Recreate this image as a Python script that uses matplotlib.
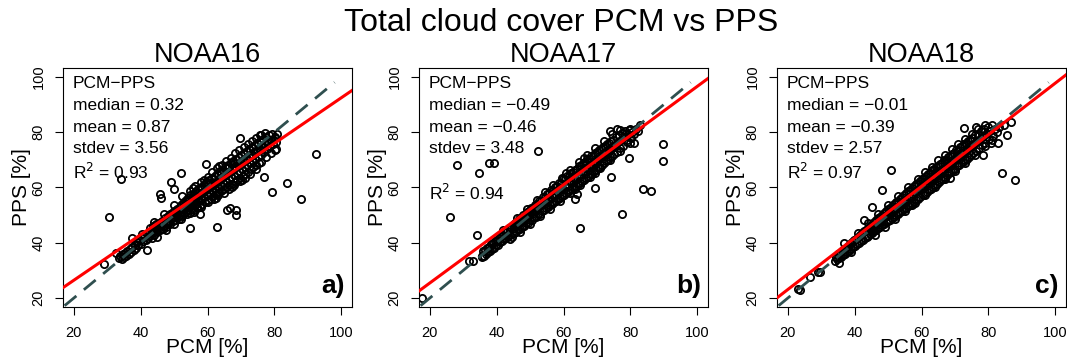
import matplotlib
matplotlib.use("Agg")
import matplotlib.pyplot as plt

plt.rcParams['font.family'] = ['Liberation Sans', 'DejaVu Sans']

# NOAA16: PCM (x) vs PPS (y)
n16_pcm = [33.4, 33.9, 34.3, 34.6, 35.0, 35.3, 35.7, 36.0, 36.4, 36.8, 37.1, 37.5, 37.9, 38.2, 38.6,
           39.0, 39.3, 39.7, 40.1, 40.4, 40.8, 41.1, 41.5, 41.8, 42.2,
           42.4, 42.6, 42.9, 43.1, 43.3, 43.6, 43.8, 44.0, 44.3, 44.5, 44.7, 45.0, 45.2, 45.4, 45.7,
           45.9, 46.1, 46.4, 46.6, 46.8, 47.1, 47.3, 47.5, 47.8, 48.0, 48.2, 48.5, 48.7, 48.9, 49.2,
           49.4, 49.6, 49.9, 50.1, 50.3, 50.6, 50.8, 51.0, 51.3, 51.5,
           51.7, 51.9, 52.1, 52.3, 52.5, 52.7, 52.9, 53.1, 53.3, 53.5,
           53.7, 53.9, 54.1, 54.3, 54.5, 54.7, 54.9, 55.1, 55.3, 55.5,
           55.7, 55.9, 56.1, 56.3, 56.5, 56.7, 56.9, 57.1, 57.3, 57.5,
           57.7, 57.9, 58.1, 58.3, 58.5, 58.7, 58.9, 59.1, 59.3, 59.5,
           59.7, 59.9, 60.1, 60.3, 60.5, 60.7, 60.9, 61.1, 61.3, 61.5,
           61.7, 61.9, 62.1, 62.3, 62.5, 62.7, 62.9, 63.1, 63.3, 63.5,
           63.7, 63.9, 64.1, 64.3, 64.5, 64.7, 64.9, 65.1, 65.3, 65.5,
           65.7, 65.9, 66.1, 66.3, 66.5, 66.7, 66.9, 67.1, 67.3, 67.5,
           67.7, 67.9, 68.1, 68.3, 68.5, 68.7, 68.9, 69.1, 69.3, 69.5,
           69.7, 69.9,
           70.1, 70.3, 70.5, 70.7, 70.9, 71.1, 71.3, 71.5, 71.7, 71.9, 72.1, 72.3, 72.5, 72.7, 72.9,
           73.1, 73.3, 73.5, 73.7, 73.9, 74.1, 74.3, 74.5, 74.7, 74.9, 75.1, 75.3, 75.5, 75.8, 76.0,
           76.3, 76.6, 76.9, 77.2, 77.5, 77.8, 78.1, 78.4, 78.7, 79.0, 79.3, 79.7, 80.1, 80.5, 80.9,
           43.5, 44.8, 46.2, 47.6, 49.0, 50.4, 51.6, 52.6, 53.6, 54.6, 55.6, 56.6, 57.6, 58.6, 59.6,
           60.6, 61.6, 62.6, 63.6, 64.6, 65.6, 66.6, 67.6, 68.6, 69.6, 70.6, 71.6, 72.6, 73.6, 74.6,
           75.6, 76.8, 77.9, 54.0, 56.0, 58.0, 60.0, 62.0, 64.0, 66.0, 68.0,
           40.5, 44.0, 47.0, 50.0, 52.5, 54.8, 56.4, 58.2, 60.0, 61.3, 62.8, 64.2, 65.6, 67.0, 68.2,
           69.4, 70.8, 72.0, 73.4, 74.6, 76.0, 77.3, 55.8, 59.0, 63.5,
           45.0, 47.6, 50.0, 52.0, 54.0, 56.0, 58.0, 60.0, 61.8, 63.2, 64.8, 66.4, 68.0, 69.6, 71.2,
           72.8, 74.4, 76.0, 77.6, 79.0, 80.4, 57.0, 62.5, 67.2, 70.4,
           30.5, 29.0, 34.2, 52.0, 49.0, 49.9, 45.7, 46.2, 59.7, 69.7, 75.7, 92.4, 77.0, 83.7, 79.2,
           88.0, 62.7, 54.7, 42.0, 68.5, 68.5, 65.7, 66.8, 57.7, 80.2, 80.2, 37.5, 32.7]
n16_pps = [34.6, 35.3, 34.2, 35.8, 35.0, 36.4, 35.4, 37.0, 36.1, 37.9, 36.6, 38.6, 37.5, 39.3, 38.0,
           40.2, 39.1, 41.0, 39.6, 41.7, 40.5, 42.6, 41.0, 43.1, 41.9,
           44.0, 42.5, 45.2, 43.3, 41.9, 44.6, 46.1, 43.0, 45.3, 44.2, 46.8, 43.8, 45.9, 47.3, 44.6,
           46.4, 45.1, 48.0, 44.9, 47.1, 46.0, 49.0, 45.8, 47.9, 46.7, 49.6, 47.4, 50.3, 46.9, 48.6,
           50.8, 47.8, 49.3, 51.5, 48.4, 50.1, 52.2, 49.0, 51.0, 48.7,
           52.9, 50.2, 53.6, 51.5, 49.8, 54.4, 52.3, 50.9, 55.1, 53.0,
           51.2, 56.0, 54.1, 52.0, 55.6, 50.9, 57.2, 53.6, 55.9, 52.2,
           57.8, 54.7, 51.9, 56.6, 54.0, 58.9, 53.1, 56.2, 59.4, 55.0,
           53.3, 57.6, 60.3, 55.8, 54.1, 58.4, 61.0, 56.5, 54.8, 59.3,
           61.9, 57.4, 55.6, 60.2, 62.6, 58.0, 56.0, 60.9, 63.3, 58.7,
           56.9, 61.7, 64.0, 59.6, 57.5, 62.4, 64.8, 60.2, 58.3, 63.1,
           65.9, 61.0, 58.8, 63.8, 66.4, 61.6, 59.6, 64.6, 67.3, 62.3,
           60.1, 65.5, 68.0, 63.1, 60.8, 66.1, 68.8, 63.9, 61.4, 66.8,
           69.6, 64.4, 62.0, 67.6, 70.4, 65.2, 62.6, 68.5, 71.1, 65.9,
           63.3, 69.2,
           71.8, 66.6, 64.2, 69.9, 72.6, 67.4, 65.0, 70.6, 73.3, 68.0, 65.7, 71.4, 74.0, 68.9, 66.6,
           72.0, 74.7, 69.6, 67.4, 72.8, 75.5, 70.2, 68.3, 73.5, 76.1, 71.0, 69.0, 74.3, 76.9, 71.9,
           75.0, 77.6, 72.7, 75.6, 78.3, 73.8, 76.4, 78.9, 74.9, 77.3, 79.5, 75.8, 78.2, 76.6, 79.4,
           43.9, 45.2, 46.5, 47.8, 49.4, 50.6, 51.7, 52.8, 53.7, 54.5, 55.4, 56.4, 57.3, 58.2, 59.1,
           60.0, 60.9, 61.8, 62.7, 63.7, 64.6, 65.5, 66.4, 67.3, 68.2, 69.1, 70.0, 71.0, 71.9, 72.8,
           73.7, 74.8, 76.0, 55.3, 57.4, 59.3, 61.3, 63.0, 65.0, 67.0, 69.0,
           43.2, 47.6, 50.5, 53.8, 56.9, 58.6, 60.4, 62.0, 63.8, 65.6, 66.9, 68.3, 69.4, 70.7, 72.3,
           73.5, 74.6, 75.8, 76.9, 78.0, 78.9, 79.6, 59.7, 62.8, 67.9,
           42.2, 44.5, 46.9, 48.5, 50.3, 51.2, 53.0, 54.6, 55.8, 57.4, 58.1, 59.5, 61.0, 62.2, 63.6,
           64.9, 66.8, 69.2, 70.9, 72.6, 73.8, 52.6, 56.3, 60.2, 62.8,
           49.3, 32.2, 62.9, 65.1, 62.1, 59.4, 57.8, 56.2, 68.4, 77.9, 79.1, 72.0, 63.9, 61.5, 58.4,
           55.7, 45.7, 45.3, 37.5, 49.9, 51.7, 51.7, 52.6, 50.4, 77.9, 73.6, 41.8, 36.5]

# NOAA17
n17_pcm = [35.6, 35.9, 36.2, 36.5, 36.8, 37.1, 37.4, 37.7, 38.0, 38.3, 38.6, 38.9, 39.2, 39.5, 39.8,
           40.1, 40.4, 40.7, 41.0, 41.3, 41.6, 41.9, 42.2, 42.5, 42.8, 43.1, 43.4, 43.7, 44.0, 44.3,
           44.6, 44.9,
           45.1, 45.3, 45.5, 45.7, 45.9, 46.1, 46.3, 46.5, 46.7, 46.9,
           47.1, 47.3, 47.5, 47.7, 47.9, 48.1, 48.3, 48.5, 48.7, 48.9,
           49.1, 49.3, 49.5, 49.7, 49.9, 50.1, 50.3, 50.5, 50.7, 50.9,
           51.1, 51.3, 51.5, 51.7, 51.9, 52.1, 52.3, 52.5, 52.7, 52.9,
           53.1, 53.3, 53.5, 53.7, 53.9, 54.1, 54.3, 54.5, 54.7, 54.9,
           55.1, 55.3, 55.5, 55.7, 55.9, 56.1, 56.3, 56.5, 56.7, 56.9,
           57.1, 57.3, 57.5, 57.7, 57.9, 58.1, 58.3, 58.5, 58.7, 58.9,
           59.1, 59.3, 59.5, 59.7, 59.9, 60.1, 60.3, 60.5, 60.7, 60.9,
           61.1, 61.3, 61.5, 61.7, 61.9, 62.1, 62.3, 62.5, 62.7, 62.9,
           63.1, 63.3, 63.5, 63.7, 63.9, 64.1, 64.3, 64.5, 64.7, 64.9,
           65.1, 65.3, 65.5, 65.7, 65.9, 66.1, 66.3, 66.5, 66.7, 66.9,
           67.1, 67.3, 67.5, 67.7, 67.9, 68.1, 68.3, 68.5, 68.7, 68.9,
           69.1, 69.3, 69.5, 69.7, 69.9, 70.1, 70.3, 70.5, 70.7, 70.9,
           71.1, 71.3, 71.5, 71.7, 71.9, 72.1, 72.3, 72.5, 72.7, 72.9,
           73.1, 73.3, 73.5, 73.7, 73.9, 74.1, 74.3, 74.5, 74.7, 74.9,
           75.1,
           75.4, 75.7, 76.0, 76.3, 76.6, 76.9, 77.2, 77.5, 77.8, 78.1, 78.5, 78.9, 79.3, 79.7, 80.1,
           80.6, 81.1, 81.7, 82.4,
           42.0, 46.0, 49.0, 52.0, 54.5, 57.0, 59.5, 62.0, 64.5, 67.0, 69.5, 72.0, 74.5, 77.0, 60.8,
           66.0,
           44.0, 47.0, 50.0, 53.0, 56.0, 59.0, 62.0, 65.0, 68.0, 71.0, 74.0, 77.0, 80.0, 63.5, 69.5,
           17.8, 26.0, 28.2, 34.8, 37.8, 39.2, 34.0, 52.3, 44.5, 65.0, 77.6, 83.8, 86.3, 89.8, 89.8,
           69.5, 74.3, 64.0, 63.5, 31.6, 33.0, 35.5, 79.5, 81.0, 79.0, 83.0, 80.0, 74.0, 76.0]
n17_pps = [35.0, 36.9, 35.3, 37.3, 36.0, 38.2, 36.6, 38.6, 37.1, 39.5, 37.9, 39.8, 38.2, 40.8, 39.1,
           41.2, 39.3, 41.9, 40.2, 42.6, 40.5, 43.0, 41.3, 43.9, 41.6, 44.3, 42.4, 45.2, 42.7, 45.6,
           43.5, 46.5,
           43.6, 45.5, 47.3, 44.0, 46.4, 47.7, 44.9, 46.6, 48.6, 45.1,
           47.5, 48.9, 45.9, 47.9, 49.9, 46.2, 48.8, 50.2, 47.0, 49.0,
           51.2, 47.3, 50.0, 51.4, 48.1, 50.3, 52.5, 48.4, 51.2, 52.7,
           49.2, 51.4, 53.8, 49.5, 52.5, 54.0, 50.3, 52.7, 55.1, 50.6,
           53.7, 55.3, 51.4, 53.9, 56.4, 51.7, 55.0, 56.6, 52.5, 55.0,
           57.7, 52.8, 56.2, 57.9, 53.6, 56.3, 59.0, 53.9, 57.4, 59.2,
           54.7, 57.4, 60.3, 55.0, 58.6, 60.5, 55.8, 58.7, 61.6, 56.1,
           59.9, 61.8, 56.9, 59.8, 62.9, 57.2, 61.0, 63.0, 58.0, 61.1,
           64.1, 58.3, 62.2, 64.2, 59.1, 62.2, 65.3, 59.4, 63.4, 65.5,
           60.2, 63.5, 66.5, 60.5, 64.6, 66.7, 61.3, 64.6, 67.8, 61.6,
           65.8, 67.9, 62.4, 65.9, 69.0, 62.7, 66.9, 69.1, 63.5, 67.0,
           70.2, 63.9, 68.1, 70.3, 64.7, 68.2, 71.3, 65.0, 69.2, 71.5,
           65.9, 69.4, 72.5, 66.2, 70.3, 72.7, 67.1, 70.5, 73.6, 67.5,
           71.5, 73.8, 68.3, 71.7, 74.7, 68.7, 72.6, 75.0, 69.6, 72.9,
           75.8, 70.0, 73.8, 76.1, 70.9, 74.0, 76.9, 71.3, 74.9, 77.2,
           72.2,
           75.3, 78.2, 73.0, 76.4, 78.8, 74.1, 77.1, 79.6, 75.1, 78.2, 80.4, 76.4, 79.2, 80.9, 77.8,
           80.1, 79.2, 81.2, 80.6,
           44.6, 49.0, 52.3, 55.6, 58.2, 61.0, 63.6, 66.4, 69.2, 71.8, 74.4, 76.9, 79.3, 80.8, 65.2,
           70.6,
           41.3, 44.0, 46.9, 49.6, 52.4, 55.2, 58.1, 60.9, 63.8, 66.9, 69.9, 73.1, 76.2, 59.3, 65.2,
           20.0, 49.5, 68.1, 65.1, 68.8, 68.8, 42.9, 73.3, 42.0, 45.3, 50.5, 59.6, 58.7, 75.7, 69.4,
           59.9, 63.9, 57.8, 56.0, 33.5, 33.5, 35.3, 70.6, 76.0, 77.3, 82.7, 81.0, 80.3, 81.0]

# NOAA18
n18_pcm = [34.0, 34.3, 34.6, 34.9, 35.2, 35.5, 35.8, 36.1, 36.4, 36.7, 37.0, 37.3, 37.6, 37.9, 38.2,
           38.5, 38.8, 39.1, 39.4, 39.7, 40.0, 40.3, 40.6, 40.9, 41.2, 41.5, 41.8, 42.1, 42.4, 42.7,
           43.0, 43.3, 43.6, 43.9,
           44.1, 44.3, 44.5, 44.7, 44.9, 45.1, 45.3, 45.5, 45.7, 45.9,
           46.1, 46.3, 46.5, 46.7, 46.9, 47.1, 47.3, 47.5, 47.7, 47.9,
           48.1, 48.3, 48.5, 48.7, 48.9, 49.1, 49.3, 49.5, 49.7, 49.9,
           50.1, 50.3, 50.5, 50.7, 50.9, 51.1, 51.3, 51.5, 51.7, 51.9,
           52.1, 52.3, 52.5, 52.7, 52.9, 53.1, 53.3, 53.5, 53.7, 53.9,
           54.1, 54.3, 54.5, 54.7, 54.9, 55.1, 55.3, 55.5, 55.7, 55.9,
           56.1, 56.3, 56.5, 56.7, 56.9, 57.1, 57.3, 57.5, 57.7, 57.9,
           58.1, 58.3, 58.5, 58.7, 58.9, 59.1, 59.3, 59.5, 59.7, 59.9,
           60.1, 60.3, 60.5, 60.7, 60.9, 61.1, 61.3, 61.5, 61.7, 61.9,
           62.1, 62.3, 62.5, 62.7, 62.9, 63.1, 63.3, 63.5, 63.7, 63.9,
           64.1, 64.3, 64.5, 64.7, 64.9, 65.1, 65.3, 65.5, 65.7, 65.9,
           66.1, 66.3, 66.5, 66.7, 66.9, 67.1, 67.3, 67.5, 67.7, 67.9,
           68.1, 68.3, 68.5, 68.7, 68.9, 69.1, 69.3, 69.5, 69.7, 69.9,
           70.1, 70.3, 70.5, 70.7, 70.9, 71.1, 71.3, 71.5, 71.7, 71.9,
           72.1, 72.3, 72.5, 72.7, 72.9, 73.1, 73.3, 73.5, 73.7, 73.9,
           74.1, 74.3, 74.5, 74.7, 74.9, 75.1,
           75.4, 75.7, 76.0, 76.3, 76.6, 76.9, 77.2, 77.5, 77.8, 78.1, 78.4, 78.7, 79.0, 79.4, 79.8,
           80.2, 80.6, 81.0, 81.5, 82.0, 82.6, 83.2,
           45.0, 48.0, 51.0, 54.0, 57.0, 60.0, 63.0, 66.0, 69.0, 72.0, 75.0, 78.0, 61.5, 64.5, 67.5,
           70.5,
           41.0, 44.0, 47.0, 50.0, 53.0, 56.0, 59.0, 61.0, 63.0, 65.0, 67.0, 69.0, 71.0, 73.0, 75.0,
           77.0, 79.0,
           46.0, 49.0, 52.0, 55.0, 58.0, 61.0, 64.0, 67.0, 70.0, 73.0, 76.0, 79.0, 81.0,
           50.8, 48.3, 45.3, 42.8, 84.0, 88.0, 85.6, 82.8, 80.8, 86.8, 84.8, 23.6, 23.0, 26.8, 29.0,
           29.8, 35.3, 38.8, 36.8, 57.3, 68.6, 78.3, 72.8, 76.3]
n18_pps = [33.4, 34.9, 34.0, 35.8, 34.5, 36.3, 35.0, 37.0, 35.5, 37.6, 36.1, 38.3, 36.7, 38.9, 37.2,
           39.6, 37.8, 40.2, 38.4, 40.9, 38.9, 41.5, 39.5, 42.2, 40.0, 42.8, 40.6, 43.5, 41.1, 44.1,
           41.7, 44.8, 42.2, 45.4,
           42.6, 44.5, 46.2, 43.1, 45.0, 46.9, 43.6, 45.7, 47.5, 44.2,
           46.2, 48.2, 44.7, 46.9, 48.8, 45.2, 47.4, 49.5, 45.8, 48.1,
           50.1, 46.3, 48.6, 50.8, 46.8, 49.3, 51.4, 47.4, 49.8, 52.1,
           47.9, 50.5, 52.7, 48.4, 51.0, 53.4, 49.0, 51.7, 54.0, 49.5,
           52.2, 54.7, 50.0, 52.9, 55.3, 50.6, 53.4, 56.0, 51.1, 54.1,
           56.6, 51.6, 54.6, 57.3, 52.2, 55.3, 57.9, 52.7, 55.8, 58.6,
           53.2, 56.5, 59.2, 53.8, 57.0, 59.9, 54.3, 57.7, 60.5, 54.8,
           58.2, 61.2, 55.4, 58.9, 61.8, 55.9, 59.4, 62.5, 56.4, 60.1,
           63.1, 57.4, 60.6, 63.6, 58.0, 61.3, 64.2, 58.4, 61.8, 64.9,
           59.1, 62.5, 65.4, 59.6, 63.0, 66.2, 60.2, 63.7, 66.6, 60.9,
           64.2, 67.4, 61.3, 64.9, 67.8, 62.1, 65.4, 68.6, 62.6, 66.1,
           68.9, 63.2, 66.6, 69.8, 63.9, 67.3, 70.1, 64.4, 67.8, 71.0,
           65.2, 68.5, 71.3, 65.6, 69.0, 72.2, 66.4, 69.7, 72.5, 66.8,
           70.2, 73.4, 67.6, 70.9, 73.7, 68.0, 71.4, 74.6, 68.8, 72.1,
           74.9, 69.2, 72.6, 75.8, 70.0, 73.3, 76.0, 70.4, 73.8, 76.9,
           71.2, 74.5, 77.1, 71.6, 75.0, 78.0,
           72.5, 75.8, 78.8, 73.3, 76.7, 79.4, 74.3, 77.6, 80.3, 75.2, 78.5, 81.0, 76.1, 79.4, 81.8,
           77.4, 80.3, 82.5, 78.5, 81.3, 79.9, 82.0,
           45.1, 48.2, 51.1, 54.2, 57.1, 60.3, 63.2, 66.3, 69.3, 72.3, 75.2, 78.1, 62.6, 65.8, 68.9,
           71.8,
           43.7, 47.3, 50.4, 53.6, 56.8, 60.1, 63.2, 65.6, 67.5, 69.8, 71.7, 73.8, 75.7, 77.6, 79.5,
           81.3, 82.6,
           42.8, 45.6, 48.7, 51.5, 54.4, 57.2, 60.1, 63.0, 65.8, 68.9, 71.8, 74.9, 77.2,
           66.3, 59.0, 53.0, 48.1, 65.1, 62.7, 78.8, 76.0, 76.0, 83.6, 82.5, 22.9, 23.4, 27.8, 29.3,
           29.3, 32.6, 36.8, 39.9, 53.6, 63.3, 71.8, 81.5, 81.8]

satellites = ["NOAA16", "NOAA17", "NOAA18"]
panel_tags = ["a)", "b)", "c)"]
medians = ["0.32", "\u22120.49", "\u22120.01"]
means = ["0.87", "\u22120.46", "\u22120.39"]
stdevs = ["3.56", "3.48", "2.57"]
r2s = ["0.93", "0.94", "0.97"]
# linear fit (slope, intercept) of PPS on PCM
fits = [(0.825, 9.94), (0.889, 7.67), (0.933, 4.43)]

xs = [n16_pcm, n17_pcm, n18_pcm]
ys = [n16_pps, n17_pps, n18_pps]

fig = plt.figure(figsize=(10.67, 3.58), dpi=100)
lefts = [63 / 1067, 419 / 1067, 777 / 1067]
width = 289 / 1067
bottom = 1 - 307 / 358
height = 239 / 358

fig.text(0.526, 0.935, "Total cloud cover PCM vs PPS", ha="center", va="center", fontsize=23)

for i in range(3):
    ax = fig.add_axes([lefts[i], bottom, width, height])
    ax.plot(xs[i], ys[i], "o", mfc="none", mec="black", ms=5.2, mew=1.3, zorder=2)
    ax.plot([0, 98], [0, 98], color="#2F4F4F", lw=2.0, dashes=(5.5, 3.5), zorder=3)
    slope, icpt = fits[i]
    ax.axline((0, icpt), slope=slope, color="red", lw=2.2, zorder=4)
    ax.set_xlim(16.8, 103.2)
    ax.set_ylim(16.8, 103.2)
    ax.set_xticks([20, 40, 60, 80, 100])
    ax.set_yticks([20, 40, 60, 80, 100])
    ax.tick_params(direction="out", length=5.5, width=0.8, labelsize=10.5)
    ax.tick_params(axis="x", pad=8)
    ax.tick_params(axis="y", pad=7)
    for lab in ax.get_yticklabels():
        lab.set_rotation(90)
        lab.set_va("center")
    for s in ax.spines.values():
        s.set_linewidth(0.8)
    ax.set_xlabel("PCM [%]", fontsize=15)
    ax.set_ylabel("PPS [%]", fontsize=15)
    ax.xaxis.set_label_coords(0.5, -0.13)
    ax.yaxis.set_label_coords(-0.11, 0.5)
    ax.set_title(satellites[i], fontsize=19.5, pad=2)

    tx = 0.034
    fs = 12.5
    ax.text(tx, 0.937, "PCM\u2212PPS", transform=ax.transAxes, va="center", fontsize=fs)
    ax.text(tx, 0.845, "median = " + medians[i], transform=ax.transAxes, va="center", fontsize=fs)
    ax.text(tx, 0.753, "mean = " + means[i], transform=ax.transAxes, va="center", fontsize=fs)
    ax.text(tx, 0.665, "stdev = " + stdevs[i], transform=ax.transAxes, va="center", fontsize=fs)
    r2_y = 0.477 if i == 1 else 0.565
    ax.text(tx, r2_y, r"R$^2$ = " + r2s[i], transform=ax.transAxes, va="center", fontsize=fs)
    ax.text(0.975, 0.088, panel_tags[i], transform=ax.transAxes, ha="right", va="center",
            fontsize=19, fontweight="bold")

fig.savefig("out.png", dpi=100)
